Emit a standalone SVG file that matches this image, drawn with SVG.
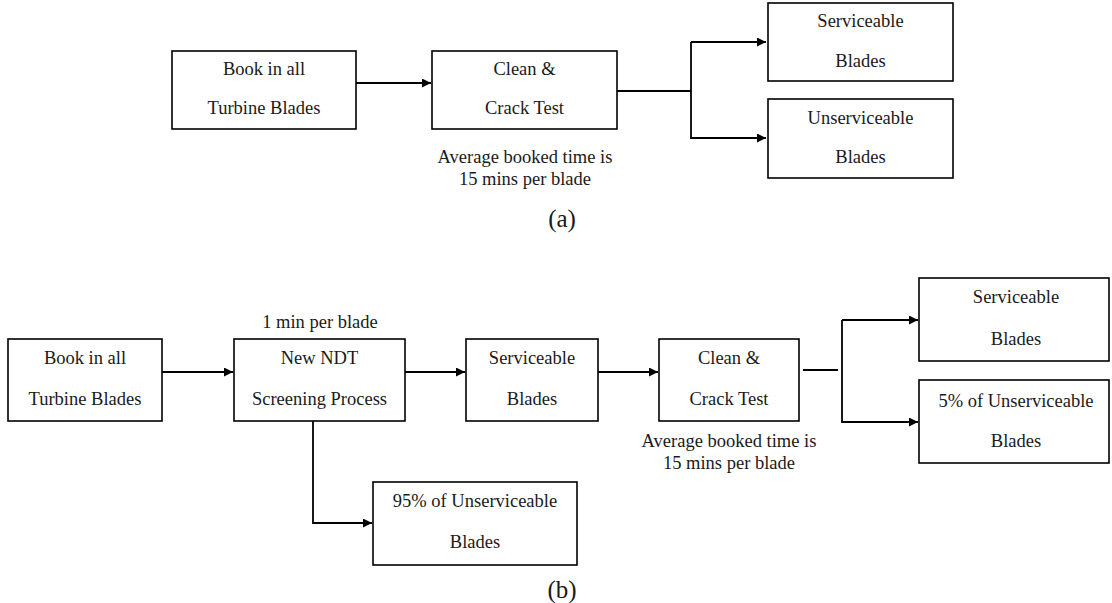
<svg xmlns="http://www.w3.org/2000/svg" width="1112" height="603" viewBox="0 0 1112 603">
<style>
.box{fill:#fff;stroke:#000;stroke-width:1.6}
.t{font-family:'Liberation Serif','Times New Roman',Tinos,'Nimbus Roman','DejaVu Serif',serif;font-size:18.5px;fill:#1a1a1a;text-anchor:middle}
.cap{font-family:'Liberation Serif','Times New Roman',Tinos,'Nimbus Roman','DejaVu Serif',serif;font-size:25px;fill:#1a1a1a;text-anchor:middle}
.ln{fill:none;stroke:#000;stroke-width:1.8}
</style>
<defs>
<marker id="ah" viewBox="0 0 10 10" refX="10" refY="5" markerWidth="10" markerHeight="9" markerUnits="userSpaceOnUse" orient="auto">
<path d="M0,0 L10,5 L0,10 z" fill="#000"/>
</marker>
</defs>
<rect width="1112" height="603" fill="#fff"/>
<g id="connectors">
<line class="ln" x1="356" y1="83" x2="431" y2="83" marker-end="url(#ah)"/>
<line class="ln" x1="617" y1="91" x2="691" y2="91"/>
<polyline class="ln" points="691,42 691,138 766,138" marker-end="url(#ah)"/>
<line class="ln" x1="691" y1="42" x2="766" y2="42" marker-end="url(#ah)"/>
<line class="ln" x1="162" y1="372" x2="233" y2="372" marker-end="url(#ah)"/>
<line class="ln" x1="405" y1="372" x2="465" y2="372" marker-end="url(#ah)"/>
<line class="ln" x1="598" y1="372" x2="658" y2="372" marker-end="url(#ah)"/>
<line class="ln" x1="803" y1="370" x2="838" y2="370"/>
<polyline class="ln" points="842,320 842,422 918,422" marker-end="url(#ah)"/>
<line class="ln" x1="842" y1="320" x2="918" y2="320" marker-end="url(#ah)"/>
<polyline class="ln" points="313,421 313,523 372,523" marker-end="url(#ah)"/>
</g>
<g id="a-book">
<rect class="box" x="172" y="51" width="184" height="78"/>
<text class="t" x="264" y="75">Book in all</text>
<text class="t" x="264" y="114">Turbine Blades</text>
</g>
<g id="a-clean">
<rect class="box" x="432" y="51" width="185" height="78"/>
<text class="t" x="524.5" y="75">Clean &amp;</text>
<text class="t" x="524.5" y="114">Crack Test</text>
</g>
<g id="a-note">
<text class="t" x="525" y="163">Average booked time is</text>
<text class="t" x="525" y="185">15 mins per blade</text>
</g>
<g id="a-serv">
<rect class="box" x="768" y="3" width="185" height="78"/>
<text class="t" x="860.5" y="27">Serviceable</text>
<text class="t" x="860.5" y="67">Blades</text>
</g>
<g id="a-unserv">
<rect class="box" x="768" y="99" width="185" height="79"/>
<text class="t" x="860.5" y="124">Unserviceable</text>
<text class="t" x="860.5" y="163">Blades</text>
</g>
<g id="label-a">
<text class="cap" x="562" y="227">(a)</text>
</g>
<g id="b-book">
<rect class="box" x="8" y="339" width="154" height="82"/>
<text class="t" x="85" y="364">Book in all</text>
<text class="t" x="85" y="405">Turbine Blades</text>
</g>
<g id="b-ndt">
<text class="t" x="320" y="328">1 min per blade</text>
<rect class="box" x="234" y="339" width="171" height="82"/>
<text class="t" x="319.5" y="364">New NDT</text>
<text class="t" x="319.5" y="405">Screening Process</text>
</g>
<g id="b-serv1">
<rect class="box" x="466" y="339" width="132" height="82"/>
<text class="t" x="532" y="364">Serviceable</text>
<text class="t" x="532" y="405">Blades</text>
</g>
<g id="b-clean">
<rect class="box" x="659" y="339" width="140" height="82"/>
<text class="t" x="729" y="364">Clean &amp;</text>
<text class="t" x="729" y="405">Crack Test</text>
</g>
<g id="b-note">
<text class="t" x="729" y="447">Average booked time is</text>
<text class="t" x="729" y="469">15 mins per blade</text>
</g>
<g id="b-serv2">
<rect class="box" x="919" y="278" width="190" height="83"/>
<text class="t" x="1016" y="303">Serviceable</text>
<text class="t" x="1016" y="345">Blades</text>
</g>
<g id="b-unserv5">
<rect class="box" x="919" y="380" width="190" height="83"/>
<text class="t" x="1016" y="407">5% of Unserviceable</text>
<text class="t" x="1016" y="447">Blades</text>
</g>
<g id="b-unserv95">
<rect class="box" x="373" y="482" width="204" height="83"/>
<text class="t" x="475" y="507">95% of Unserviceable</text>
<text class="t" x="475" y="548">Blades</text>
</g>
<g id="label-b">
<text class="cap" x="562" y="598">(b)</text>
</g>
</svg>
